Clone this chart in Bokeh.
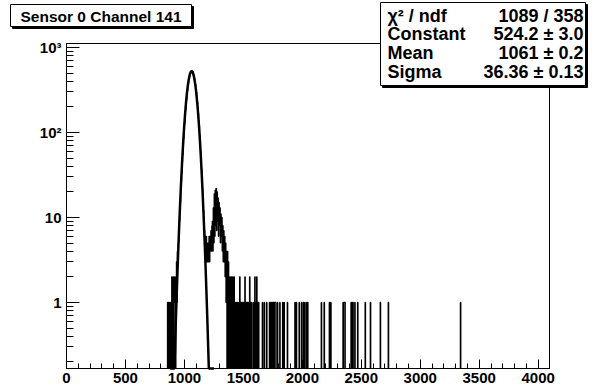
import math
import numpy as np
from bokeh.plotting import figure
from bokeh.models import FixedTicker, Range1d, Label, BoxAnnotation
from bokeh.embed import file_html
from bokeh.resources import INLINE

# ---------------- data ----------------
BIN_W = 4                      # channels per bin
N_BINS = 1024                  # 0 .. 4096

peak_start = 856               # first channel of the dense part
peak_counts = [
    # 856 .. 944
    1, 0, 1, 0, 1, 0, 1, 0, 1, 2, 0, 1, 2, 0, 1, 2, 1, 0, 2, 3, 1, 4, 3,
    # 948 .. 1164 (main peak)
    5, 7, 9, 12, 15, 21, 27, 33, 45, 54, 72, 85, 108, 126, 156, 178, 214, 241,
    281, 309, 351, 377, 418, 440, 474, 489, 512, 516, 530, 519, 518, 497, 484,
    452, 432, 394, 368, 326, 298, 256, 230, 193, 169, 137, 119, 94, 80, 60, 51,
    37, 31, 22, 18, 12, 10,
    # 1168 .. 1232 (valley)
    7, 4, 6, 3, 6, 3, 5, 3, 5, 3, 6, 3, 6, 4, 7, 4, 8,
    # 1236 .. 1336 (second peak)
    9, 4, 13, 5, 19, 6, 21, 8, 22, 7, 20, 9, 17, 6, 15, 8, 13, 5, 11, 6, 10,
    4, 8, 3, 7, 3,
    # 1340 .. 1416
    6, 2, 5, 1, 4, 0, 4, 0, 3, 1, 0, 2, 1, 0, 2, 1, 0, 2, 0, 1,
    # 1420 .. 1636
    2, 0, 1, 0, 1, 0, 1, 0, 1, 0, 1, 0, 2, 0, 1, 0, 1, 0, 1, 0, 1, 0, 1, 2,
    0, 1, 0, 1, 0, 1, 0, 1, 0, 2, 0, 1, 0, 1, 0, 0, 0, 1, 0, 1, 2, 0, 1, 0,
    2, 0, 1, 0, 1, 0, 0,
]

tail_channels = [1662, 1676, 1699, 1722, 1728, 1734, 1740, 1746, 1752, 1758,
                 1764, 1770, 1775, 1789, 1811, 1832, 1846, 1874, 1936, 1950,
                 1973, 1993, 2010, 2021, 2036, 2044, 2163, 2186, 2228, 2243,
                 2346, 2352, 2358, 2363, 2412, 2420, 2431, 2446, 2469, 2533,
                 2576, 2661, 2729, 3340]
tail_counts = [1] * len(tail_channels)

fit_const = 524.2
fit_mean = 1061.0
fit_sigma = 36.36
fit_lo, fit_hi = 880, 1250

title_text = "Sensor 0 Channel 141"
stats_names = ["χ² / ndf", "Constant", "Mean", "Sigma"]
stats_values = ["1089 / 358", "524.2 ± 3.0", "1061 ± 0.2", "36.36 ± 0.13"]

x_major = list(range(0, 4001, 500))
x_minor = list(range(0, 4001, 100))
y_major = [1, 10, 100, 1000]
y_major_labels = ["1", "10", "10²", "10³"]
y_minor = [m * d for d in [0.1, 1, 10, 100] for m in range(2, 10)]

X_LO, X_HI = 0, 4096
Y_LO, Y_HI = 0.167, 1112.0

# ---------------- layout constants (pixels) ----------------
W, H = 602, 392
FRAME_L, FRAME_R, FRAME_T, FRAME_B = 66, 549, 43, 368
FONT = "Liberation Sans"

kx = (FRAME_R - FRAME_L) / (X_HI - X_LO)
ky = (FRAME_B - FRAME_T) / (math.log10(Y_HI) - math.log10(Y_LO))
x_start = X_LO - FRAME_L / kx
x_end = X_HI + (W - FRAME_R) / kx
y_start = 10 ** (math.log10(Y_LO) - (H - FRAME_B) / ky)
y_end = 10 ** (math.log10(Y_HI) + FRAME_T / ky)

# ---------------- build histogram ----------------
counts = np.zeros(N_BINS)
i0 = peak_start // BIN_W
for i, c in enumerate(peak_counts):
    counts[i0 + i] = c
for ch, c in zip(tail_channels, tail_counts):
    counts[ch // BIN_W] = c

edges = X_LO + np.arange(N_BINS + 1) * BIN_W
xs = np.repeat(edges, 2)[1:-1].astype(float)
ys = np.repeat(np.maximum(counts, Y_LO), 2)

xf = np.arange(fit_lo, fit_hi + 1, 1.0)
yf = fit_const * np.exp(-0.5 * ((xf - fit_mean) / fit_sigma) ** 2)
yf = np.maximum(yf, Y_LO)

# ---------------- figure (frame = whole canvas, axes at fixed locations) ----
p = figure(width=W, height=H, x_range=Range1d(x_start, x_end),
           y_range=Range1d(y_start, y_end), y_axis_type="log",
           output_backend="svg", toolbar_location=None, min_border=0)
p.xgrid.visible = False
p.ygrid.visible = False
p.outline_line_color = None
p.background_fill_color = "white"
p.border_fill_color = "white"

# histogram and fit
p.line(xs, ys, line_color="black", line_width=1.2)
p.line(xf, yf, line_color="black", line_width=2.5)

# frame box
p.quad(left=[X_LO], right=[X_HI], bottom=[Y_LO], top=[Y_HI],
       fill_color=None, line_color="black", line_width=1)

xa = p.xaxis[0]
xa.fixed_location = Y_LO
xa.bounds = (X_LO, X_HI)
xa.ticker = FixedTicker(ticks=x_major, minor_ticks=x_minor)
xa.major_tick_in = 9
xa.major_tick_out = 0
xa.minor_tick_in = 5
xa.minor_tick_out = 0
xa.major_label_standoff = 4

ya = p.yaxis[0]
ya.fixed_location = X_LO
ya.bounds = (Y_LO, Y_HI)
ya.ticker = FixedTicker(ticks=y_major, minor_ticks=y_minor)
ya.major_tick_in = 13
ya.major_tick_out = 0
ya.minor_tick_in = 7
ya.minor_tick_out = 0
ya.major_label_standoff = 5
ya.major_label_overrides = {v: t for v, t in zip(y_major, y_major_labels)}

for ax in (xa, ya):
    ax.axis_line_color = "black"
    ax.major_tick_line_color = "black"
    ax.minor_tick_line_color = "black"
    ax.major_label_text_font = FONT
    ax.major_label_text_font_style = "bold"
    ax.major_label_text_font_size = "15px"
    ax.major_label_text_color = "black"

# ---------------- title box and stats box (screen units = page pixels) -----
def sy(py):
    return H - py

SH = 2

def add_box(l, r, t, b):
    p.add_layout(BoxAnnotation(left=l + SH, right=r + SH, top=sy(t + SH),
                               bottom=sy(b + SH),
                               left_units="screen", right_units="screen",
                               top_units="screen", bottom_units="screen",
                               fill_color="black", fill_alpha=1.0,
                               line_color="black", line_alpha=1.0))
    p.add_layout(BoxAnnotation(left=l, right=r, top=sy(t), bottom=sy(b),
                               left_units="screen", right_units="screen",
                               top_units="screen", bottom_units="screen",
                               fill_color="white", fill_alpha=1.0,
                               line_color="black", line_alpha=1.0,
                               line_width=1))

def add_text(x, py, text, align, size):
    p.add_layout(Label(x=x, y=sy(py), x_units="screen", y_units="screen",
                       text=text, text_font=FONT, text_font_style="bold",
                       text_font_size=size, text_align=align,
                       text_baseline="middle", text_color="black"))

add_box(10, 191, 4, 26)
add_text((10 + 191) / 2, 15.5, title_text, "center", "15.5px")

add_box(380, 585, 2, 85)
row_y = [15.5, 33.5, 52.5, 71]
for name, val, yy in zip(stats_names, stats_values, row_y):
    add_text(387, yy, name, "left", "18px")
    add_text(583, yy, val, "right", "18px")

open("out.html", "w").write(file_html(p, INLINE))
